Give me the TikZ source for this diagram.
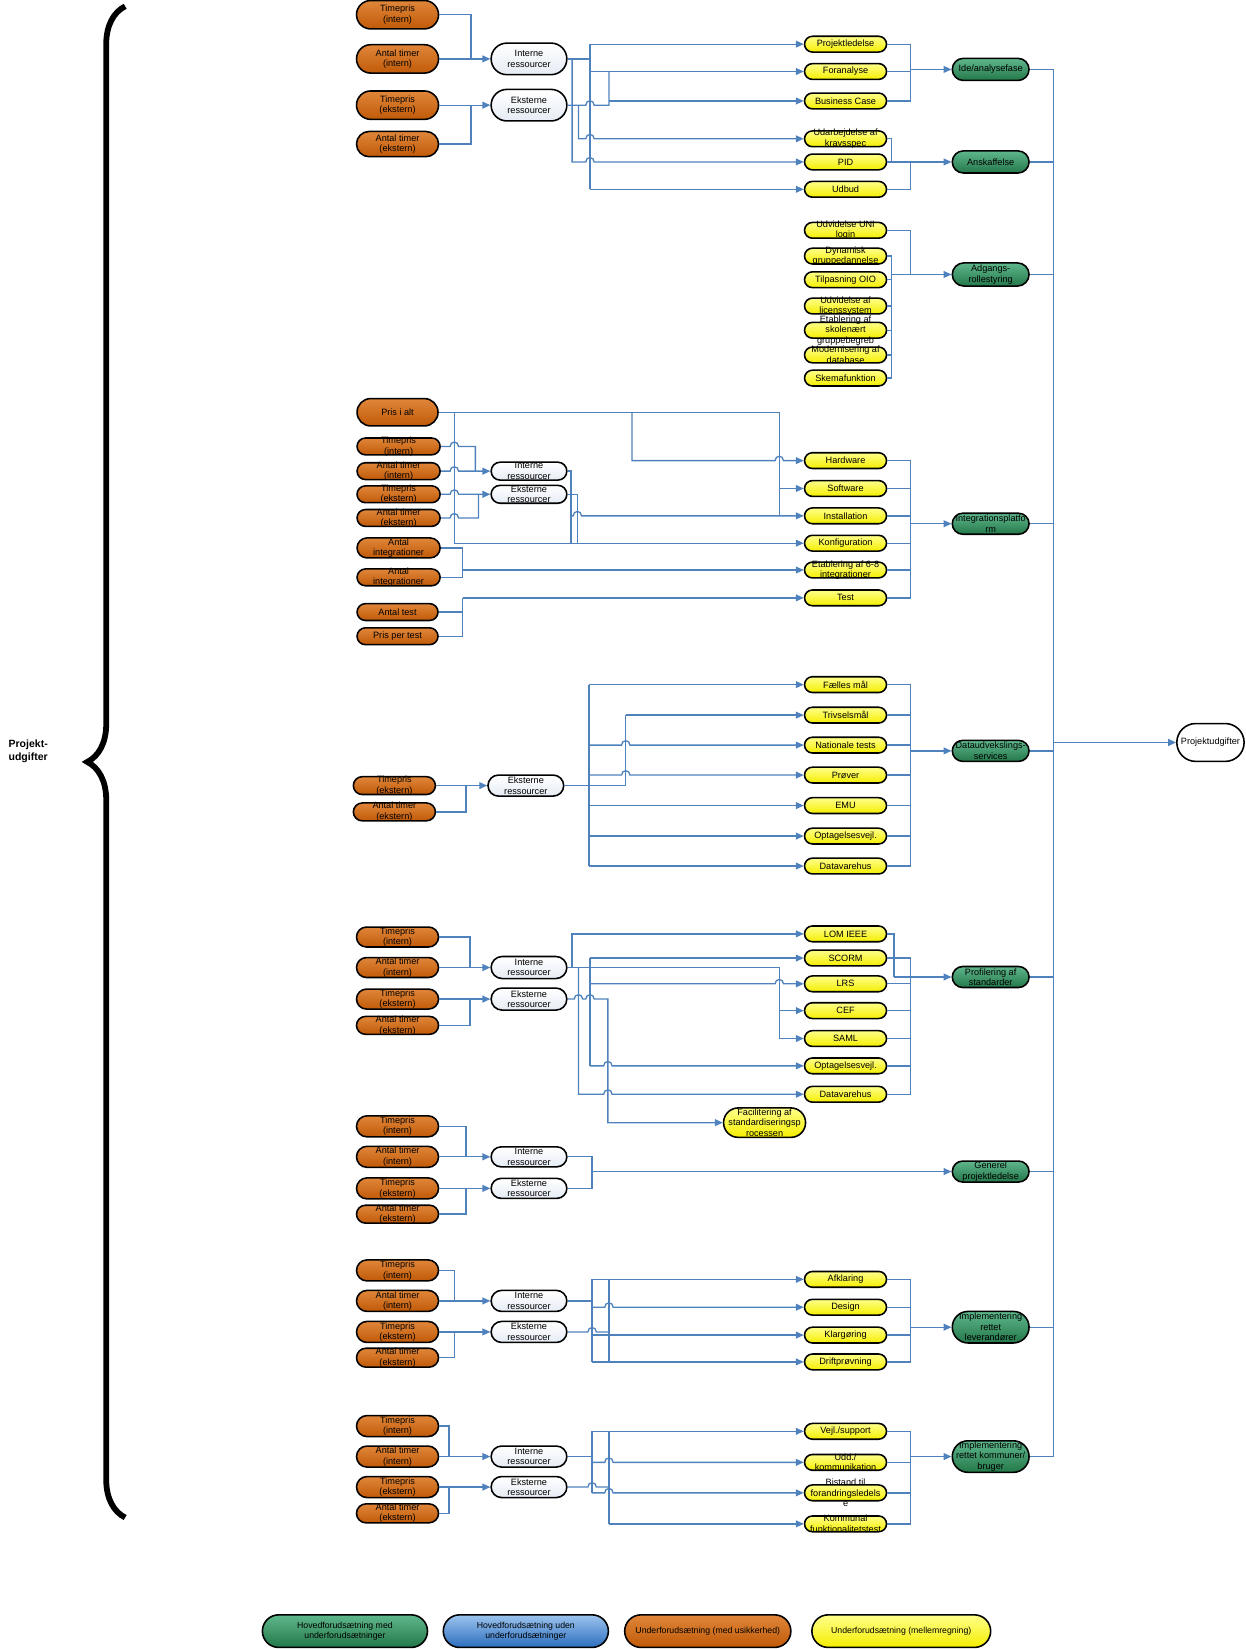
\documentclass[tikz,border=0pt]{standalone}
\usepackage{fontspec}
\setmainfont{Liberation Sans}
\usetikzlibrary{shapes.misc,arrows.meta,decorations.pathreplacing}
\definecolor{orL}{HTML}{E0863A}
\definecolor{orD}{HTML}{C05A08}
\definecolor{yeL}{HTML}{FFFF8A}
\definecolor{yeD}{HTML}{F4EE00}
\definecolor{grL}{HTML}{5FB78C}
\definecolor{grD}{HTML}{24784A}
\definecolor{blL}{HTML}{9CC4EE}
\definecolor{blD}{HTML}{2C6EBE}
\definecolor{whD}{HTML}{E6ECF5}
\definecolor{lnc}{HTML}{4F81BD}
\newcommand\lblfont{\fontsize{8.7}{10}\selectfont}
\newcommand\legfont{\fontsize{8.3}{10}\selectfont}
\newcommand\mkbox[6]{\node[#1,minimum width=#4pt,minimum height=#5pt] (#2) at (#3) {};\node[lbl] (#2-t) at (#2.center) {#6};}
\newcommand\hopx[2]{-- (#1-4,#2) .. controls (#1-4,#2-5.5) and (#1+4,#2-5.5) .. (#1+4,#2)}
\begin{document}
\begin{tikzpicture}[x=1pt,y=-1pt,
 base/.style={rounded rectangle,draw=black,line width=1.5pt,inner sep=0pt},
 org/.style={base,top color=orL,bottom color=orD},
 ylw/.style={base,top color=yeL,bottom color=yeD},
 grn/.style={base,top color=grL,bottom color=grD},
 blu/.style={base,top color=blL,bottom color=blD},
 wht/.style={base,top color=white,bottom color=whD},
 wpl/.style={base,fill=white},
 lbl/.style={font=\lblfont,align=center,inner sep=0pt,text=black},
 con/.style={draw=lnc,line width=1.25pt},
 arr/.style={con,-{Triangle[length=7.5pt,width=6.5pt]}}]
\useasboundingbox (0,0) rectangle (1184,1568);

% brace and label
\draw[line width=5.5pt,decorate,decoration={brace,amplitude=36pt}] (119,1443) -- (119,6);
\node[font=\bfseries\fontsize{10}{12.5}\selectfont,align=left,anchor=west,inner sep=0pt] (plabel) at (8,714) {Projekt-\\udgifter};

% ===== Group 1 =====
\mkbox{org}{a1}{378,14}{78}{27}{Timepris\\(intern)}
\mkbox{org}{a2}{378,56}{78}{27}{Antal timer\\(intern)}
\mkbox{org}{a3}{378,100}{78}{27}{Timepris\\(ekstern)}
\mkbox{org}{a4}{378,137}{78}{24}{Antal timer\\(ekstern)}
\mkbox{wht}{ai}{503,56}{72}{30}{Interne\\ressourcer}
\mkbox{wht}{ae}{503,100}{72}{30}{Eksterne\\ressourcer}
\mkbox{ylw}{y1}{804,42}{78}{15}{Projektledelse}
\mkbox{ylw}{y2}{804,68}{78}{15}{Foranalyse}
\mkbox{ylw}{y3}{804,96}{78}{15}{Business Case}
\mkbox{ylw}{y4}{804,132}{78}{15}{Udarbejdelse af\\kravsspec}
\mkbox{ylw}{y5}{804,154}{78}{15}{PID}
\mkbox{ylw}{y6}{804,180}{78}{15}{Udbud}
\mkbox{grn}{g1}{942,66}{73}{21}{Ide/analysefase}
\mkbox{grn}{g2}{942,154}{73}{21}{Anskaffelse}

\draw[con] (a1.east) -| (448,56);
\draw[arr] (a2.east) -- (ai.west);
\draw[arr] (a3.east) -- (ae.west);
\draw[con] (a4.east) -| (448,100);
\draw[con] (ai.east) -- (561,56);
\draw[con] (561,42) -- (561,180);
\draw[arr] (561,42) -- (y1.west);
\draw[arr] (561,68) -- (y2.west);
\draw[arr] (561,180) -- (y6.west);
\draw[arr] (ai.east) -- (544,56) -- (544,154) \hopx{561}{154} -- (y5.west);
\draw[con] (ae.east) \hopx{561}{100} -- (579,100) -- (579,68);
\draw[arr] (579,96) -- (y3.west);
\draw[arr] (550,100) -- (550,132) \hopx{561}{132} -- (y4.west);
\draw[con] (y1.east) -| (866,96) -- (y3.east);
\draw[con] (y2.east) -- (866,68);
\draw[arr] (866,66) -- (g1.west);
\draw[con] (y4.east) -| (848,154);
\draw[arr] (y5.east) -- (g2.west);
\draw[con] (y6.east) -| (866,154);

% ===== Access =====
\mkbox{ylw}{y7}{804,219}{78}{15}{Udvidelse UNI\\login}
\mkbox{ylw}{y8}{804,243.5}{78}{15}{Dynamisk\\gruppedannelse}
\mkbox{ylw}{y9}{804,266}{78}{15}{Tilpasning OIO}
\mkbox{ylw}{y10}{804,291}{78}{15}{Udvidelse af\\licenssystem}
\mkbox{ylw}{y11}{804,314}{78}{15}{Etablering af\\skolenært\\gruppebegreb}
\mkbox{ylw}{y12}{804,337.5}{78}{15}{Modernisering af\\database}
\mkbox{ylw}{y13}{804,359.5}{78}{15}{Skemafunktion}
\mkbox{grn}{g3}{942,261}{73}{22}{Adgangs-\\rollestyring}
\draw[con] (y7.east) -| (866,261);
\draw[con] (y8.east) -| (848,359.5) -- (y13.east);
\draw[con] (y9.east) -- (848,266);
\draw[con] (y10.east) -- (848,291);
\draw[con] (y11.east) -- (848,314);
\draw[con] (y12.east) -- (848,337.5);
\draw[arr] (848,261) -- (g3.west);

% ===== Integration =====
\mkbox{org}{b0}{378,392}{77}{26}{Pris i alt}
\mkbox{org}{b1}{379,424.5}{79}{16}{Timepris\\(intern)}
\mkbox{org}{b2}{379,448}{79}{16}{Antal timer\\(intern)}
\mkbox{org}{b3}{379,470}{79}{16}{Timepris\\(ekstern)}
\mkbox{org}{b4}{379,492.5}{79}{16}{Antal timer\\(ekstern)}
\mkbox{org}{b5}{379,521}{79}{19}{Antal\\integrationer}
\mkbox{org}{b6}{379,549}{79}{16}{Antal\\integrationer}
\mkbox{org}{b7}{378,582}{77}{16}{Antal test}
\mkbox{org}{b8}{378,605}{77}{16}{Pris per test}
\mkbox{wht}{bi}{503,448}{72}{17}{Interne\\ressourcer}
\mkbox{wht}{be}{503,470}{72}{17}{Eksterne\\ressourcer}
\mkbox{ylw}{y14}{804,438}{78}{15}{Hardware}
\mkbox{ylw}{y15}{804,464.5}{78}{15}{Software}
\mkbox{ylw}{y16}{804,490.5}{78}{15}{Installation}
\mkbox{ylw}{y17}{804,516.5}{78}{15}{Konfiguration}
\mkbox{ylw}{y18}{804,542}{78}{15}{Etablering af 6-8\\integrationer}
\mkbox{ylw}{y19}{804,568.5}{78}{15}{Test}
\mkbox{grn}{g4}{942,498}{73}{20}{Integrationsplatfo\\rm}
\draw[con] (b0.east) -- (741,392) -- (741,490.5);
\draw[arr] (741,464.5) -- (y15.west);
\draw[arr] (601,392) -- (601,438) \hopx{741}{438} -- (y14.west);
\draw[arr] (432,392) -- (432,516.5) -- (y17.west);
\draw[con] (b1.east) \hopx{432}{424.5} -- (452,424.5) -- (452,448);
\draw[arr] (b2.east) \hopx{432}{448} -- (bi.west);
\draw[arr] (b3.east) \hopx{432}{470} -- (be.west);
\draw[con] (b4.east) \hopx{432}{492.5} -- (455,492.5) -- (455,470);
\draw[con] (bi.east) -| (543,516.5);
\draw[con] (be.east) -| (549,516.5);
\draw[arr] (543,490.5) \hopx{549}{490.5} -- (y16.west);
\draw[con] (b5.east) -| (440,549) -- (b6.east);
\draw[arr] (440,542) -- (y18.west);
\draw[con] (b7.east) -| (440,568.5);
\draw[con] (b8.east) -| (440,582);
\draw[arr] (440,568.5) -- (y19.west);
\draw[con] (y14.east) -| (866,568.5) -- (y19.east);
\draw[con] (y15.east) -- (866,464.5);
\draw[con] (y16.east) -- (866,490.5);
\draw[con] (y17.east) -- (866,516.5);
\draw[con] (y18.east) -- (866,542);
\draw[arr] (866,498) -- (g4.west);

% ===== Data exchange =====
\mkbox{org}{c1}{375,747}{78}{17}{Timepris\\(ekstern)}
\mkbox{org}{c2}{375,772}{78}{17}{Antal timer\\(ekstern)}
\mkbox{wht}{ce}{500,747}{72}{20}{Eksterne\\ressourcer}
\mkbox{ylw}{y20}{804,651}{78}{15}{Fælles mål}
\mkbox{ylw}{y21}{804,680}{78}{15}{Trivselsmål}
\mkbox{ylw}{y22}{804,708.5}{78}{15}{Nationale tests}
\mkbox{ylw}{y23}{804,737}{78}{15}{Prøver}
\mkbox{ylw}{y24}{804,766}{78}{15}{EMU}
\mkbox{ylw}{y25}{804,795}{78}{15}{Optagelsesvejl.}
\mkbox{ylw}{y26}{804,823.5}{78}{15}{Datavarehus}
\mkbox{grn}{g5}{942,714}{73}{20}{Dataudvekslings-\\services}
\draw[arr] (c1.east) -- (ce.west);
\draw[con] (c2.east) -| (443,747);
\draw[con] (ce.east) -- (595,747) -- (595,680);
\draw[arr] (595,680) -- (y21.west);
\draw[con] (560,651) -- (560,823.5);
\draw[arr] (560,651) -- (y20.west);
\draw[arr] (560,708.5) \hopx{595}{708.5} -- (y22.west);
\draw[arr] (560,737) \hopx{595}{737} -- (y23.west);
\draw[arr] (560,766) -- (y24.west);
\draw[arr] (560,795) -- (y25.west);
\draw[arr] (560,823.5) -- (y26.west);
\draw[con] (y20.east) -| (866,823.5) -- (y26.east);
\draw[con] (y21.east) -- (866,680);
\draw[con] (y22.east) -- (866,708.5);
\draw[con] (y23.east) -- (866,737);
\draw[con] (y24.east) -- (866,766);
\draw[con] (y25.east) -- (866,795);
\draw[arr] (866,714) -- (g5.west);

% ===== Standards =====
\mkbox{org}{d1}{378,891}{78}{19}{Timepris\\(intern)}
\mkbox{org}{d2}{378,920}{78}{19}{Antal timer\\(intern)}
\mkbox{org}{d3}{378,950}{78}{19}{Timepris\\(ekstern)}
\mkbox{org}{d4}{378,975}{78}{17}{Antal timer\\(ekstern)}
\mkbox{wht}{di}{503,920}{72}{21}{Interne\\ressourcer}
\mkbox{wht}{de}{503,950}{72}{21}{Eksterne\\ressourcer}
\mkbox{ylw}{y27}{804,888}{78}{15}{LOM IEEE}
\mkbox{ylw}{y28}{804,911}{78}{15}{SCORM}
\mkbox{ylw}{y29}{804,935.5}{78}{15}{LRS}
\mkbox{ylw}{y30}{804,961}{78}{15}{CEF}
\mkbox{ylw}{y31}{804,987.5}{78}{15}{SAML}
\mkbox{ylw}{y32}{804,1013.5}{78}{15}{Optagelsesvejl.}
\mkbox{ylw}{y33}{804,1040.5}{78}{15}{Datavarehus}
\mkbox{ylw}{f1}{727,1067.5}{78}{28}{Facilitering af\\standardiseringsp\\rocessen}
\mkbox{grn}{g6}{942,929}{73}{20}{Profilering af\\standarder}
\draw[con] (d1.east) -| (447,920);
\draw[arr] (d2.east) -- (di.west);
\draw[arr] (d3.east) -- (de.west);
\draw[con] (d4.east) -| (447,950);
\draw[con] (di.east) -- (741,920) -- (741,987.5);
\draw[arr] (741,961) -- (y30.west);
\draw[arr] (741,987.5) -- (y31.west);
\draw[arr] (544,920) -- (544,888) -- (y27.west);
\draw[con] (561,911) -- (561,1013.5);
\draw[arr] (561,911) -- (y28.west);
\draw[arr] (561,935.5) \hopx{741}{935.5} -- (y29.west);
\draw[arr] (561,1013.5) \hopx{578}{1013.5} -- (y32.west);
\draw[arr] (550,920) -- (550,1040.5) \hopx{578}{1040.5} -- (y33.west);
\draw[arr] (de.east) \hopx{550}{950} \hopx{561}{950} -- (578,950) -- (578,1067.5) -- (f1.west);
\draw[con] (y27.east) -| (850,929);
\draw[con] (y28.east) -| (866,1040.5) -- (y33.east);
\draw[con] (y29.east) -- (866,935.5);
\draw[con] (y30.east) -- (866,961);
\draw[con] (y31.east) -- (866,987.5);
\draw[con] (y32.east) -- (866,1013.5);
\draw[arr] (850,929) -- (g6.west);

% ===== General project management =====
\mkbox{org}{e1}{378,1071}{78}{20}{Timepris\\(intern)}
\mkbox{org}{e2}{378,1100}{78}{20}{Antal timer\\(intern)}
\mkbox{org}{e3}{378,1130}{78}{20}{Timepris\\(ekstern)}
\mkbox{org}{e4}{378,1154.5}{78}{17}{Antal timer\\(ekstern)}
\mkbox{wht}{ei}{503,1100}{72}{19}{Interne\\ressourcer}
\mkbox{wht}{ee}{503,1130}{72}{19}{Eksterne\\ressourcer}
\mkbox{grn}{g7}{942,1114}{73}{20}{Generel\\projektledelse}
\draw[con] (e1.east) -| (443,1100);
\draw[arr] (e2.east) -- (ei.west);
\draw[arr] (e3.east) -- (ee.west);
\draw[con] (e4.east) -| (443,1130);
\draw[con] (ei.east) -| (563,1114);
\draw[con] (ee.east) -| (563,1114);
\draw[arr] (563,1114) -- (g7.west);

% ===== Implementation (suppliers) =====
\mkbox{org}{h1}{378,1208}{78}{20}{Timepris\\(intern)}
\mkbox{org}{h2}{378,1237}{78}{20}{Antal timer\\(intern)}
\mkbox{org}{h3}{378,1266.5}{78}{20}{Timepris\\(ekstern)}
\mkbox{org}{h4}{378,1291}{78}{18}{Antal timer\\(ekstern)}
\mkbox{wht}{hi}{503,1237}{72}{20}{Interne\\ressourcer}
\mkbox{wht}{he}{503,1266.5}{72}{20}{Eksterne\\ressourcer}
\mkbox{ylw}{y34}{804,1216.5}{78}{15}{Afklaring}
\mkbox{ylw}{y35}{804,1243}{78}{15}{Design}
\mkbox{ylw}{y36}{804,1269.5}{78}{15}{Klargøring}
\mkbox{ylw}{y37}{804,1295}{78}{15}{Driftprøvning}
\mkbox{grn}{g8}{942,1262}{73}{30}{Implementering\\rettet\\leverandører}
\draw[con] (h1.east) -| (432,1237);
\draw[arr] (h2.east) -- (hi.west);
\draw[arr] (h3.east) -- (he.west);
\draw[con] (h4.east) -| (432,1266.5);
\draw[con] (hi.east) -- (563,1237);
\draw[con] (563,1216.5) -- (563,1295);
\draw[con] (579,1216.5) -- (579,1295);
\draw[arr] (563,1216.5) -- (y34.west);
\draw[arr] (563,1243) \hopx{579}{1243} -- (y35.west);
\draw[arr] (563,1269.5) -- (y36.west);
\draw[arr] (563,1295) -- (y37.west);
\draw[con] (he.east) \hopx{563}{1266.5} -- (579,1266.5);
\draw[con] (y34.east) -| (866,1295) -- (y37.east);
\draw[con] (y35.east) -- (866,1243);
\draw[con] (y36.east) -- (866,1269.5);
\draw[arr] (866,1262) -- (g8.west);

% ===== Implementation (municipalities) =====
\mkbox{org}{k1}{378,1356}{78}{20}{Timepris\\(intern)}
\mkbox{org}{k2}{378,1385}{78}{20}{Antal timer\\(intern)}
\mkbox{org}{k3}{378,1414}{78}{20}{Timepris\\(ekstern)}
\mkbox{org}{k4}{378,1439}{78}{18}{Antal timer\\(ekstern)}
\mkbox{wht}{ki}{503,1385}{72}{20}{Interne\\ressourcer}
\mkbox{wht}{ke}{503,1414}{72}{20}{Eksterne\\ressourcer}
\mkbox{ylw}{y38}{804,1361}{78}{15}{Vejl./support}
\mkbox{ylw}{y39}{804,1390.5}{78}{15}{Udd./\\kommunikation}
\mkbox{ylw}{y40}{804,1419.5}{78}{15}{Bistand til\\forandringsledels\\e}
\mkbox{ylw}{y41}{804,1449}{78}{15}{Kommunal\\funktionalitetstest}
\mkbox{grn}{g9}{942,1385}{73}{30}{Implementering\\rettet kommuner/\\bruger}
\draw[con] (k1.east) -| (427,1385);
\draw[arr] (k2.east) -- (ki.west);
\draw[arr] (k3.east) -- (ke.west);
\draw[con] (k4.east) -| (427,1414);
\draw[con] (ki.east) -- (563,1385);
\draw[con] (563,1361) -- (563,1419.5);
\draw[con] (579,1361) -- (579,1449);
\draw[arr] (563,1361) -- (y38.west);
\draw[arr] (563,1390.5) \hopx{579}{1390.5} -- (y39.west);
\draw[arr] (563,1419.5) \hopx{579}{1419.5} -- (y40.west);
\draw[con] (ke.east) \hopx{563}{1414} -- (579,1414);
\draw[arr] (579,1449) -- (y41.west);
\draw[con] (y38.east) -| (866,1449) -- (y41.east);
\draw[con] (y39.east) -- (866,1390.5);
\draw[con] (y40.east) -- (866,1419.5);
\draw[arr] (866,1385) -- (g9.west);

% ===== Bus to total =====
\mkbox{wpl}{pu}{1151,706}{64}{36}{Projektudgifter}
\draw[con] (g1.east) -| (1002,1385) -- (g9.east);
\draw[con] (g2.east) -- (1002,154);
\draw[con] (g3.east) -- (1002,261);
\draw[con] (g4.east) -- (1002,498);
\draw[con] (g5.east) -- (1002,714);
\draw[con] (g6.east) -- (1002,929);
\draw[con] (g7.east) -- (1002,1114);
\draw[con] (g8.east) -- (1002,1262);
\draw[arr,line width=1.7pt] (1002,706) -- (pu.west);

% ===== Legend =====
\node[grn,minimum width=157pt,minimum height=31pt] (L1) at (328,1551) {};
\node[lbl,font=\legfont] (L1-t) at (L1.center) {Hovedforudsætning med\\underforudsætninger};
\node[blu,minimum width=157pt,minimum height=31pt] (L2) at (500,1551) {};
\node[lbl,font=\legfont] (L2-t) at (L2.center) {Hovedforudsætning uden\\underforudsætninger};
\node[org,minimum width=158pt,minimum height=31pt] (L3) at (673,1551) {};
\node[lbl,font=\legfont] (L3-t) at (L3.center) {Underforudsætning (med usikkerhed)};
\node[ylw,minimum width=170pt,minimum height=31pt] (L4) at (857,1551) {};
\node[lbl,font=\legfont] (L4-t) at (L4.center) {Underforudsætning (mellemregning)};
\end{tikzpicture}
\end{document}
